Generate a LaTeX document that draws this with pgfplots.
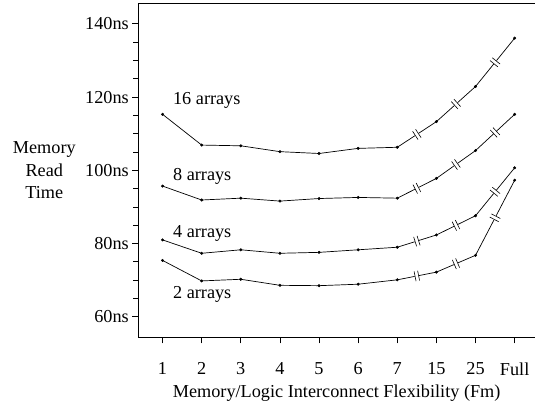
\documentclass[border=0pt]{standalone}
\usepackage{fontspec}
\setmainfont{Liberation Serif}
\usepackage{pgfplots}
\usepackage{pgfplotstable}
\pgfplotsset{compat=1.18}
\usetikzlibrary{decorations.markings}

\pgfplotstableread{
x y
0 115.3
1 106.9
2 106.7
3 105.1
4 104.6
5 106.0
6 106.3
7 113.3
8 122.9
9 136.1
}\sixteen
\pgfplotstableread{
x y
0 95.7
1 91.9
2 92.4
3 91.6
4 92.3
5 92.6
6 92.4
7 97.8
8 105.4
9 115.3
}\eight
\pgfplotstableread{
x y
0 81.0
1 77.35
2 78.3
3 77.35
4 77.6
5 78.3
6 79.0
7 82.35
8 87.6
9 100.7
}\four
\pgfplotstableread{
x y
0 75.4
1 69.8
2 70.25
3 68.6
4 68.5
5 68.9
6 70.1
7 72.2
8 76.8
9 97.3
}\two

\tikzset{brk/.style={postaction={decorate,decoration={markings,mark=at position 0.5 with {
  \fill[white] (-1.8pt,-3pt) rectangle (1.8pt,3pt);
  \draw[black,line width=0.6pt] (-1.8pt,-5pt) -- (-1.8pt,5pt);
  \draw[black,line width=0.6pt] (1.8pt,-5pt) -- (1.8pt,5pt);}}}}}

\newcommand{\series}[1]{%
  \addplot[black,line width=0.7pt,no marks] table[restrict x to domain=0:6]{#1};
  \addplot[black,line width=0.7pt,no marks,brk] table[restrict x to domain=6:7]{#1};
  \addplot[black,line width=0.7pt,no marks,brk] table[restrict x to domain=7:8]{#1};
  \addplot[black,line width=0.7pt,no marks,brk] table[restrict x to domain=8:9]{#1};
  \addplot[black,only marks,mark=*,mark size=1.3pt] table{#1};
}

\begin{document}
\begin{tikzpicture}
\begin{axis}[
  name=ax,
  scale only axis,
  width=396.7bp, height=334.3bp,
  xmin=-0.62, xmax=9.52,
  ymin=54.4, ymax=145.7,
  axis lines*=left,
  axis line style={line width=0.8pt},
  tick align=outside,
  tick style={black,line width=0.8pt},
  major tick length=6bp,
  minor tick length=5bp,
  xtick={0,...,9},
  xticklabels={1,2,3,4,5,6,7,15,25,Full},
  ytick={60,80,100,120,140},
  yticklabels={60ns,80ns,100ns,120ns,140ns},
  minor y tick num=3,
  xticklabel style={yshift=-16bp},
  font=\fontsize{18.3}{22.5}\selectfont,
  clip=false,
  xlabel={Memory/Logic Interconnect Flexibility (Fm)},
  xlabel style={at={(axis description cs:0.5,0)},anchor=center,yshift=-56bp},
]
\series{\sixteen}
\series{\eight}
\series{\four}
\series{\two}
\node[anchor=west] at (axis cs:0.18,119.2) {16 arrays};
\node[anchor=west] at (axis cs:0.18,98.3) {8 arrays};
\node[anchor=west] at (axis cs:0.18,82.8) {4 arrays};
\node[anchor=west] at (axis cs:0.18,66.0) {2 arrays};
\node[align=center] at (axis description cs:0,0.5) [xshift=-94bp] {Memory\\Read\\Time};
\draw[line width=0.8pt] (axis description cs:0,1) -- (axis description cs:1,1);
\end{axis}
\pgfresetboundingbox
\path ([xshift=-138.3bp,yshift=-67.7bp]ax.south west) rectangle ([yshift=3bp]ax.north east);
\end{tikzpicture}
\end{document}
